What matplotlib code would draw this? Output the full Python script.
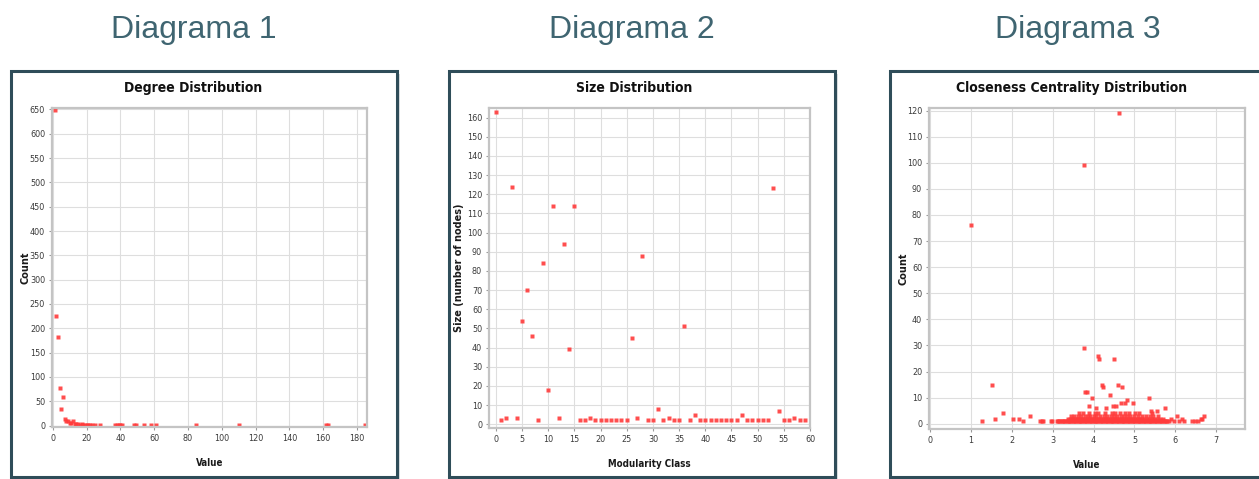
import matplotlib.pyplot as plt
from matplotlib.patches import Rectangle
import numpy as np

W, H = 1259, 479

# Degree distribution (degree -> number of nodes)
degree_values = [1, 2, 3, 4, 5, 6, 7, 8, 9, 10, 11, 12, 13, 14, 15, 16, 17, 18, 19, 20,
                 21, 22, 23, 25, 28, 37, 38, 39, 40, 41, 48, 49, 54, 58, 61, 85, 110, 162, 163, 185]
degree_counts = [648, 226, 183, 78, 34, 58, 14, 10, 9, 6, 5, 9, 4, 4, 3, 2, 3, 2, 2, 2,
                 1, 1, 1, 1, 1, 1, 1, 1, 1, 2, 1, 1, 1, 1, 1, 1, 1, 2, 1, 1]

# Community sizes per modularity class
modularity_class = list(range(60))
class_size = [163, 2, 3, 124, 3, 54, 70, 46, 2, 84, 18, 114, 3, 94, 39, 114, 2, 2, 3, 2,
              2, 2, 2, 2, 2, 2, 45, 3, 88, 2, 2, 8, 2, 3, 2, 2, 51, 2, 5, 2,
              2, 2, 2, 2, 2, 2, 2, 5, 2, 2, 2, 2, 2, 123, 7, 2, 2, 3, 2, 2]

# Closeness centrality: isolated / larger counts
close_x_big = [1.00, 3.77, 4.63, 3.77, 4.10, 4.13, 4.50, 1.53, 4.20, 4.22, 4.60, 4.70,
               3.80, 3.83, 4.40, 3.95, 5.35, 4.82, 4.76, 4.68, 4.97, 3.90, 4.47, 4.56, 5.75,
               4.30, 5.55, 5.40, 4.05]
close_y_big = [76, 99, 119, 29, 26, 25, 25, 15, 15, 14, 15, 14,
               12, 12, 11, 10, 10, 9, 8, 8, 8, 7, 7, 7, 6,
               6, 5, 5, 6]
close_x_tail = [1.27, 1.60, 1.78, 2.03, 2.17, 2.27, 2.45, 2.70, 2.73, 2.76, 2.95, 2.98,
                5.85, 5.90, 5.96, 6.03, 6.08, 6.15, 6.22, 6.40, 6.47, 6.55, 6.62, 6.66, 6.70]
close_y_tail = [1, 2, 4, 2, 2, 1, 3, 1, 1, 1, 1, 1,
                1, 2, 1, 3, 1, 2, 1, 1, 1, 1, 2, 2, 3]
# the dense bulk between 3.1 and 5.8, grouped by count
close_x_count1 = [3.10, 3.13, 3.16, 3.19, 3.22, 3.25, 3.28, 3.31, 3.34, 3.37, 3.40, 3.43,
                  3.46, 3.49, 3.52, 3.55, 3.58, 3.61, 3.64, 3.67, 3.70, 3.73, 3.76, 3.79,
                  3.82, 3.85, 3.88, 3.91, 3.94, 3.97, 4.00, 4.03, 4.06, 4.09, 4.12, 4.15,
                  4.18, 4.21, 4.24, 4.27, 4.30, 4.33, 4.36, 4.39, 4.42, 4.45, 4.48, 4.51,
                  4.54, 4.57, 4.60, 4.63, 4.66, 4.69, 4.72, 4.75, 4.78, 4.81, 4.84, 4.87,
                  4.90, 4.93, 4.96, 4.99, 5.02, 5.05, 5.08, 5.11, 5.14, 5.17, 5.20, 5.23,
                  5.26, 5.29, 5.32, 5.35, 5.38, 5.41, 5.44, 5.47, 5.50, 5.53, 5.56, 5.59,
                  5.62, 5.65, 5.68, 5.71, 5.74, 5.77, 5.80]
close_x_count2 = [3.38, 3.42, 3.47, 3.51, 3.55, 3.60, 3.63, 3.68, 3.72, 3.75, 3.80, 3.84,
                  3.88, 3.93, 3.97, 4.01, 4.05, 4.10, 4.14, 4.18, 4.23, 4.27, 4.31, 4.36,
                  4.40, 4.44, 4.49, 4.53, 4.57, 4.62, 4.66, 4.70, 4.74, 4.79, 4.83, 4.88,
                  4.92, 4.96, 5.01, 5.05, 5.10, 5.14, 5.19, 5.24, 5.30, 5.36, 5.42, 5.48,
                  5.55, 5.62, 5.70]
close_x_count3 = [3.45, 3.53, 3.62, 3.70, 3.78, 3.86, 3.92, 4.00, 4.07, 4.16, 4.25, 4.33,
                  4.42, 4.51, 4.58, 4.66, 4.74, 4.81, 4.90, 4.99, 5.08, 5.18, 5.27, 5.38,
                  5.46, 5.58]
close_x_count4 = [3.64, 3.74, 3.88, 4.03, 4.12, 4.28, 4.45, 4.53, 4.64, 4.78, 4.87, 5.02,
                  5.12, 5.44]

RED = '#ff3b3b'
FRAME = '#2f4d59'
HEAD = '#3f6571'
NARROW = dict(family='DejaVu Sans', stretch='condensed')


def px_box(left, top, right, bottom):
    return [left / W, 1 - bottom / H, (right - left) / W, (bottom - top) / H]


def draw_frame(fig, left, top, right, bottom):
    shadow = Rectangle((left / W + 3 / W, 1 - bottom / H - 3 / H), (right - left) / W, (bottom - top) / H,
                       transform=fig.transFigure, facecolor='#b8c2c6', edgecolor='none', alpha=0.5, zorder=-3)
    box = Rectangle((left / W, 1 - bottom / H), (right - left) / W, (bottom - top) / H,
                    transform=fig.transFigure, facecolor='white', edgecolor=FRAME, lw=2.2, zorder=-2)
    fig.patches.extend([shadow, box])


def style_axes(ax, title, title_x, xlabel, ylabel, ylab_x):
    ax.set_facecolor('white')
    ax.grid(True, color='#dedede', lw=0.8)
    ax.set_axisbelow(True)
    for sp in ax.spines.values():
        sp.set_color('#c4c4c4')
        sp.set_linewidth(1.6)
    ax.tick_params(length=2.5, width=0.8, color='#9a9a9a', labelsize=6.5, labelcolor='#3a3a3a', pad=2.5)
    for lab in ax.get_xticklabels() + ax.get_yticklabels():
        lab.set_family('DejaVu Sans')
        lab.set_stretch('condensed')
    ax.figure.text(title_x / W, 1 - 88 / H, title, ha='center', va='center', fontsize=10,
                   fontweight='bold', color='#111111', **NARROW)
    ax.text(0.5, -0.113, xlabel, transform=ax.transAxes, ha='center', va='center', fontsize=7,
            fontweight='bold', color='#1a1a1a', **NARROW)
    ax.text(ylab_x, 0.5, ylabel, transform=ax.transAxes, ha='center', va='center', rotation=90,
            fontsize=7, fontweight='bold', color='#1a1a1a', family='DejaVu Sans')


fig = plt.figure(figsize=(W / 100, H / 100), dpi=100)
fig.patch.set_facecolor('white')

draw_frame(fig, 11, 71, 397, 477)
draw_frame(fig, 449, 71, 835, 477)
draw_frame(fig, 890, 71, 1275, 477)

for cx, text in [(194, 'Diagrama 1'), (632, 'Diagrama 2'), (1078, 'Diagrama 3')]:
    fig.text(cx / W, 1 - 30 / H, text, ha='center', va='center', fontsize=23,
             family='Liberation Sans', color=HEAD)

# Degree distribution
ax1 = fig.add_axes(px_box(52, 108, 367, 427))
ax1.plot(degree_values, degree_counts, 's', ms=2.6, color=RED, mec='none', alpha=0.9)
ax1.set_xlim(-0.5, 186)
ax1.set_ylim(-3, 653)
ax1.set_xticks(np.arange(0, 181, 20))
ax1.set_yticks(np.arange(0, 651, 50))
style_axes(ax1, 'Degree Distribution', 193, 'Value', 'Count', -0.085)

# Size distribution
ax2 = fig.add_axes(px_box(489, 108, 810, 428))
ax2.plot(modularity_class, class_size, 's', ms=2.6, color=RED, mec='none', alpha=0.9)
ax2.set_xlim(-1.3, 60)
ax2.set_ylim(-2, 165)
ax2.set_xticks(np.arange(0, 61, 5))
ax2.set_yticks(np.arange(0, 161, 10))
style_axes(ax2, 'Size Distribution', 634, 'Modularity Class', 'Size (number of nodes)', -0.095)

# Closeness centrality distribution
ax3 = fig.add_axes(px_box(929, 108, 1245, 429))
bulk_x = close_x_count1 + close_x_count2 + close_x_count3 + close_x_count4
bulk_y = ([1] * len(close_x_count1) + [2] * len(close_x_count2)
          + [3] * len(close_x_count3) + [4] * len(close_x_count4))
ax3.plot(bulk_x, bulk_y, 's', ms=2.6, color=RED, mec='none', alpha=0.9)
ax3.plot(close_x_tail, close_y_tail, 's', ms=2.6, color=RED, mec='none', alpha=0.9)
ax3.plot(close_x_big, close_y_big, 's', ms=2.6, color=RED, mec='none', alpha=0.9)
ax3.set_xlim(-0.02, 7.7)
ax3.set_ylim(-2, 121)
ax3.set_xticks(np.arange(0, 8, 1))
ax3.set_yticks(np.arange(0, 121, 10))
style_axes(ax3, 'Closeness Centrality Distribution', 1072, 'Value', 'Count', -0.082)

fig.savefig('out.png', dpi=100, facecolor='white')
